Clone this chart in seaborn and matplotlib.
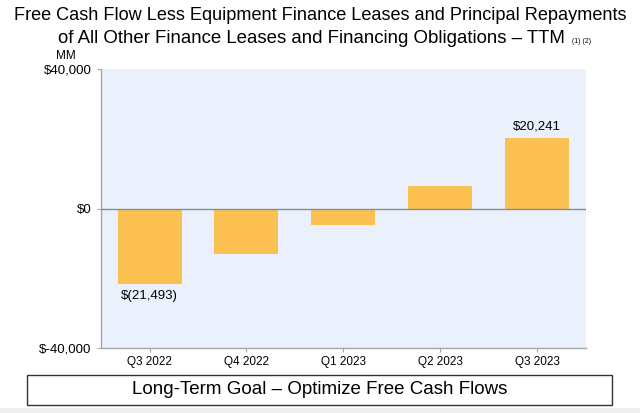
import matplotlib
matplotlib.use("Agg")
import matplotlib.pyplot as plt
from matplotlib.patches import Rectangle
import seaborn as sns
import pandas as pd

# TTM free cash flow less finance leases, $MM (middle values)
quarters = ["Q3 2022", "Q4 2022", "Q1 2023", "Q2 2023", "Q3 2023"]
fcf = [-21493, -13100, -4700, 6600, 20241]
y_ticks = [-40000, 0, 40000]
y_tick_labels = ["$-40,000", "$0", "$40,000"]

bar_color = "#FBC04F"
bg_color = "#EAF1FC"
axis_gray = "#A6A6A6"

sns.set_style("white")
plt.rcParams["font.family"] = ["Liberation Sans", "DejaVu Sans"]
plt.rcParams["text.color"] = "black"
plt.rcParams["xtick.color"] = "black"
plt.rcParams["ytick.color"] = "black"

df = pd.DataFrame({"quarter": quarters, "fcf": fcf})

fig = plt.figure(figsize=(6.4, 4.13), dpi=100)
ax = fig.add_axes([0.158, 0.157, 0.757, 0.676])
sns.barplot(data=df, x="quarter", y="fcf", ax=ax, color=bar_color,
            width=0.66, saturation=1, edgecolor="none")
ax.set_facecolor(bg_color)
ax.set_xlim(-0.5, 4.5)
ax.set_ylim(-40000, 40000)
ax.axhline(0, color="#8C8C8C", lw=1, zorder=3)

ax.set_yticks(y_ticks)
ax.set_yticklabels(y_tick_labels)
ax.set_xlabel("")
ax.set_ylabel("")
ax.tick_params(axis="y", labelsize=9.5, length=3, color=axis_gray, labelcolor="black",
               direction="out", left=True, pad=4)
ax.tick_params(axis="x", labelsize=8.5, length=3, color=axis_gray, labelcolor="black",
               direction="out", bottom=True, pad=3)
for side in ["top", "right"]:
    ax.spines[side].set_visible(False)
for side in ["left", "bottom"]:
    ax.spines[side].set_color(axis_gray)
    ax.spines[side].set_linewidth(1)

# value labels on first and last bar
ax.text(0, fcf[0] - 1800, "$(21,493)", ha="center", va="top", fontsize=9.5)
ax.text(4, fcf[4] + 1500, "$20,241", ha="center", va="bottom", fontsize=9.5)

# title
fig.text(0.5, 0.952, "Free Cash Flow Less Equipment Finance Leases and Principal Repayments",
         ha="center", va="baseline", fontsize=13.05)
fig.text(0.0906, 0.896, "of All Other Finance Leases and Financing Obligations \u2013 TTM",
         ha="left", va="baseline", fontsize=13.45)
fig.text(0.893, 0.896, "(1) (2)", ha="left", va="baseline", fontsize=5)
fig.text(0.103, 0.865, "MM", ha="center", va="center", fontsize=8.5)

# bottom goal box
fig.patches.append(Rectangle((0.042, 0.02), 0.914, 0.073, transform=fig.transFigure,
                             facecolor="white", edgecolor="#333333", lw=1))
fig.patches.append(Rectangle((0, 0), 1, 0.012, transform=fig.transFigure,
                             facecolor="#EFEFEF", edgecolor="none"))
fig.text(0.5, 0.057, "Long-Term Goal \u2013 Optimize Free Cash Flows",
         ha="center", va="center", fontsize=13.5)

fig.savefig("out.png", dpi=100)
